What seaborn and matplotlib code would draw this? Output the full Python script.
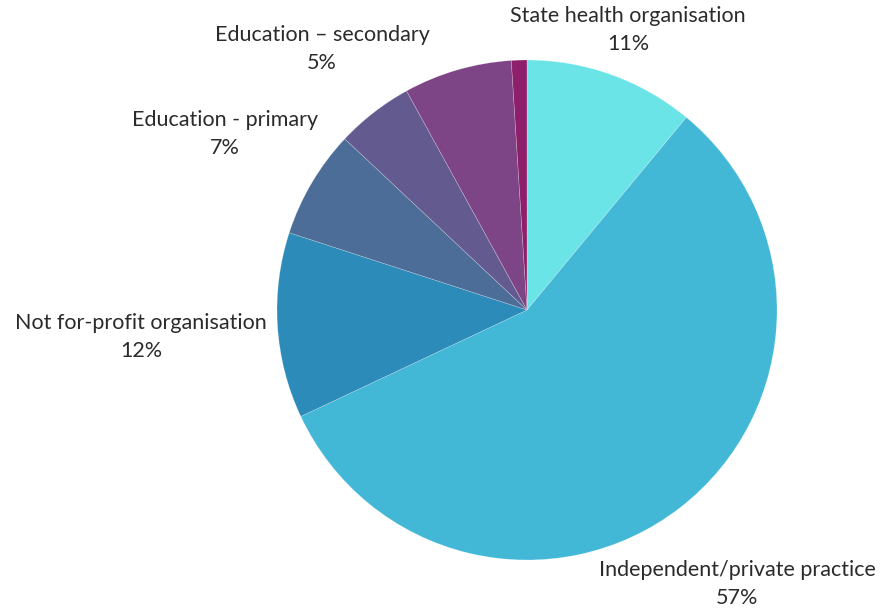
import matplotlib
matplotlib.use("Agg")
import matplotlib.pyplot as plt
import seaborn as sns

# Workplace sectors (clockwise from 12 o'clock)
sectors = [
    "State health organisation",
    "Independent/private practice",
    "Not for-profit organisation",
    "Education - primary",
    "Education \u2013 secondary",
    "Other",
    "Other (minor)",
]
shares = [11, 57, 12, 7, 5, 7, 1]
show_label = [True, True, True, True, True, False, False]

colors = ["#6BE4E8", "#42B8D6", "#2D8BBA", "#4B6D97", "#635A8F", "#7E4586", "#8E1F6B"]

sns.set_theme(style="white")
plt.rcParams["font.family"] = ["Lato", "DejaVu Sans"]

W, H = 896, 613
fig = plt.figure(figsize=(W / 100, H / 100), dpi=100)
fig.patch.set_facecolor("white")

# pie occupies a square box centred at (527, 310) px with radius 250 px
cx, cy, r = 527, 310, 250
ax = fig.add_axes([(cx - r) / W, (H - cy - r) / H, 2 * r / W, 2 * r / H])
ax.pie(shares, colors=colors, startangle=90, counterclock=False,
       radius=1.0, wedgeprops=dict(linewidth=0.4, edgecolor=(1, 1, 1, 0.35)))
ax.set_xlim(-1, 1)
ax.set_ylim(-1, 1)
ax.set_aspect("equal")
ax.axis("off")

# label anchor points (pixel centres of the two-line labels)
label_pos = [(628, 30), (737, 584), (141, 337), (225, 134), (322, 49), None, None]

for name, val, show, pos in zip(sectors, shares, show_label, label_pos):
    if not show:
        continue
    x, y = pos
    fig.text(x / W, 1 - y / H, f"{name}\n{val}%", ha="center", va="center",
             fontsize=15.5, color="#2b2b2b", linespacing=1.45)

fig.savefig("out.png", dpi=100)
